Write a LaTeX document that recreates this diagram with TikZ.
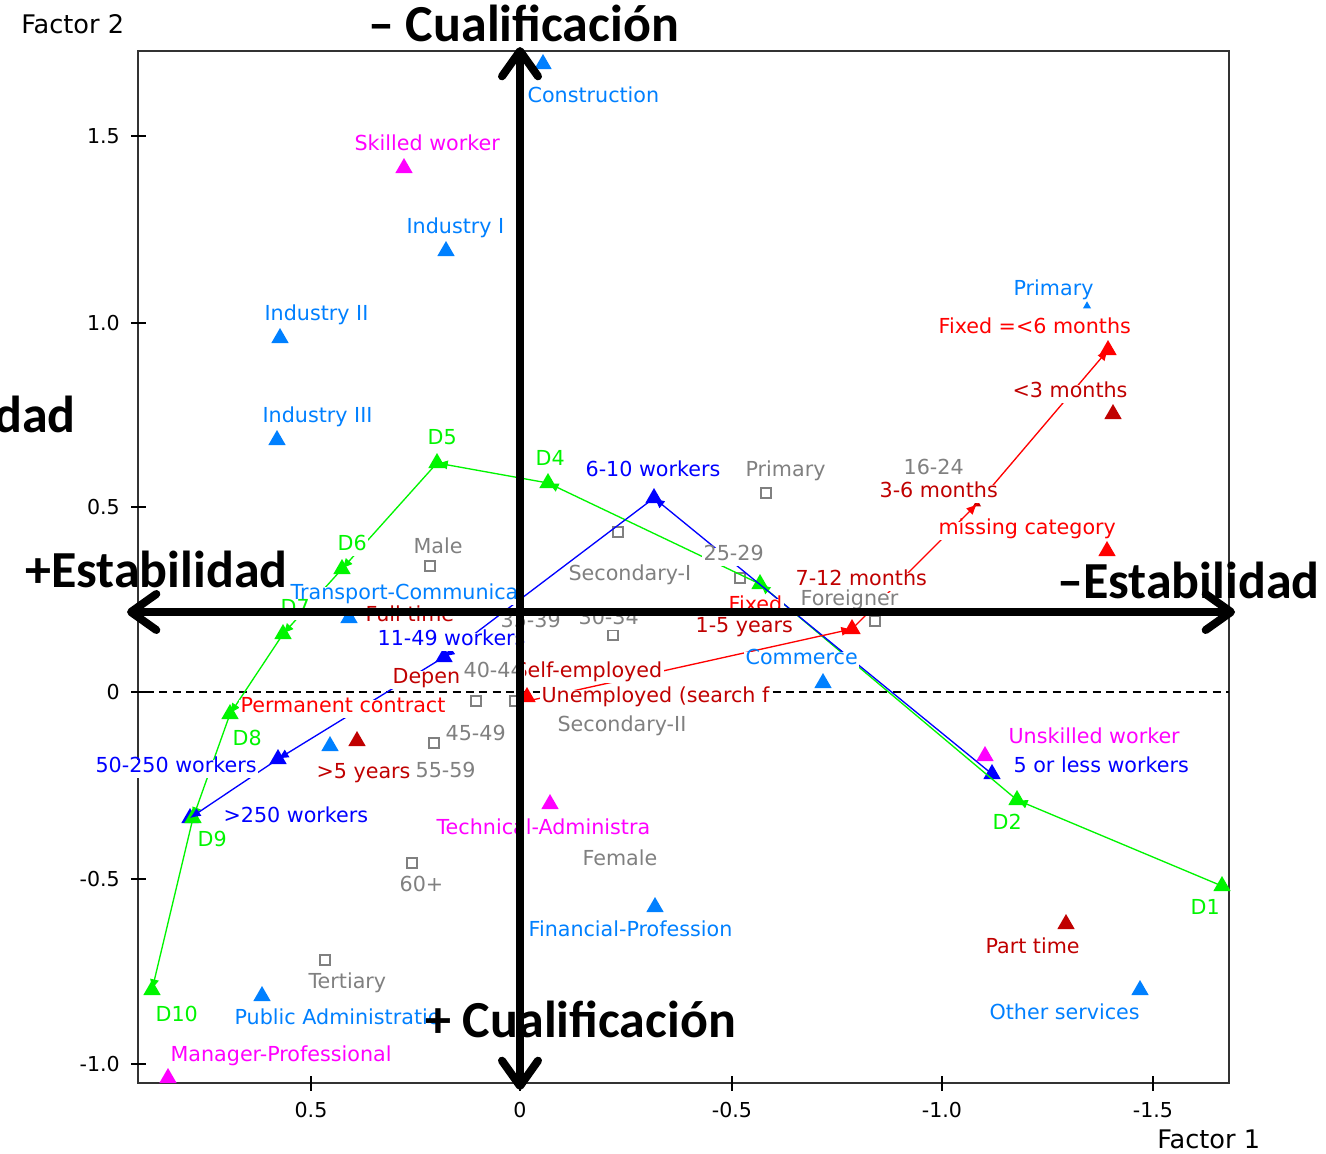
\documentclass[tikz,border=0pt]{standalone}
\usepackage{fontspec}
\setmainfont{DejaVu Sans}
\newfontfamily\bigfont{Carlito}
\usetikzlibrary{arrows.meta,shapes.geometric}
\definecolor{sect}{RGB}{0,128,255}
\definecolor{wrk}{RGB}{0,0,255}
\definecolor{dec}{RGB}{0,245,0}
\definecolor{mag}{RGB}{255,0,255}
\definecolor{rd}{RGB}{255,0,0}
\definecolor{drd}{RGB}{192,0,0}
\definecolor{gr}{RGB}{128,128,128}
\tikzset{
  tri/.style={regular polygon,regular polygon sides=3,inner sep=0pt,minimum size=15pt,fill=#1},
  stri/.style={regular polygon,regular polygon sides=3,inner sep=0pt,minimum size=7pt,fill=#1},
  sqr/.style={rectangle,draw=gr,line width=1.1pt,fill=white,minimum size=7.5pt,inner sep=0pt},
  lbl/.style={font=\fontsize{15.5}{18}\selectfont,text=#1,fill=white,inner xsep=1pt,inner ysep=2pt,text height=0.75em,text depth=0.2em,anchor=west,yshift=-3pt},
  traj/.style={draw=#1,line width=1pt,-{Latex[length=8pt,width=7pt]}},
  bigtxt/.style={font=\bigfont\bfseries\fontsize{39}{44}\selectfont,inner sep=0pt,anchor=base west},
  ticklbl/.style={font=\fontsize{15.4}{18}\selectfont,inner sep=0pt},
  axlbl/.style={font=\fontsize{19.2}{22}\selectfont,inner sep=0pt,anchor=west},
  bigarrow/.style={line width=6pt,{Straight Barb[length=19pt,width=27pt,round]}-{Straight Barb[length=19pt,width=27pt,round]}},
}
\begin{document}
\begin{tikzpicture}[x=0.75pt,y=-0.75pt]
\fill[white] (0,0) rectangle (1326,1153);
\useasboundingbox (0,0) rectangle (1326,1153);
% frame and axes
\draw[line width=1.5pt,black!80] (138,51) rectangle (1229,1083);
\foreach \v/\yy in {1.5/136,1.0/323,0.5/507,0/692,-0.5/879,-1.0/1064}{
  \draw[line width=1.2pt] (131,\yy) -- (146,\yy);
  \node[ticklbl,anchor=east] at (120,\yy) {\v};
}
\foreach \v/\xx in {0.5/311,0/520,-0.5/732,-1.0/942,-1.5/1153}{
  \draw[line width=1.2pt] (\xx,1076) -- (\xx,1091);
  \node[ticklbl] at (\xx,1110) {\v};
}
\node[axlbl] (f2) at (21,24) {Factor 2};
\node[axlbl] (f1) at (1157,1139) {Factor 1};
\draw[dash pattern=on 6pt off 4pt,line width=1pt] (146,692) -- (1229,692);
% sector markers
\node[tri=sect] (cons) at (543,64) {};
\node[tri=sect] (ind1) at (446,251) {};
\node[tri=sect] (ind2) at (280,338) {};
\node[tri=sect] (ind3) at (277,440) {};
\node[stri=sect] (prim) at (1087,306) {};
\node[tri=sect] (trans) at (349,618) {};
\node[tri=sect] (comm) at (823,683) {};
\node[tri=sect] (fin) at (655,907) {};
\node[tri=sect] (pub) at (262,996) {};
\node[tri=sect] (oth) at (1140,990) {};
\node[tri=sect] (unl) at (330,746) {};
% occupation markers
\node[tri=mag] (skw) at (404,168) {};
\node[tri=mag] (unsk) at (985,756) {};
\node[tri=mag] (tech) at (550,804) {};
\node[tri=mag] (mgr) at (168,1078) {};
% firm size markers
\node[tri=wrk] (w610) at (654,498) {};
\node[tri=wrk] (w5) at (992,774) {};
\node[tri=wrk] (w1149) at (444,657) {};
\node[tri=wrk] (w50) at (278,759) {};
\node[tri=wrk] (w250) at (190,818) {};
% deciles
\node[tri=dec] (d1) at (1222,886) {};
\node[tri=dec] (d2) at (1017,800) {};
\node[tri=dec] (d3) at (760,584) {};
\node[tri=dec] (d4) at (548,483) {};
\node[tri=dec] (d5) at (437,463) {};
\node[tri=dec] (d6) at (342,569) {};
\node[tri=dec] (d7) at (283,634) {};
\node[tri=dec] (d8) at (230,714) {};
\node[tri=dec] (d9) at (193,818) {};
\node[tri=dec] (d10) at (152,990) {};
% contract markers
\node[tri=rd] (fx6) at (1108,350) {};
\node[tri=rd] (miss) at (1107,551) {};
\node[tri=rd] (r712) at (852,629) {};
\node[tri=rd] (unemp) at (527,697) {};
\node[stri=drd] (r36) at (977,504) {};
\node[tri=drd] (lt3) at (1113,414) {};
\node[tri=drd] (pt) at (1066,924) {};
\node[tri=drd] (gt5) at (357,741) {};
% supplementary squares
\node[sqr] (sprim) at (766,493) {};
\node[sqr] (smale) at (430,566) {};
\node[sqr] (s2529) at (740,578) {};
\node[sqr] (s3034) at (613,635) {};
\node[sqr] (s4044) at (476,701) {};
\node[sqr] (s4549) at (434,743) {};
\node[sqr] (s60) at (412,863) {};
\node[sqr] (ssec1) at (618,532) {};
\node[sqr] (ssec2) at (515,701) {};
\node[sqr] (ster) at (325,960) {};
\node[sqr] (sfor) at (875,621) {};
% trajectories
\foreach \a/\b in {d1/d2,d2/d3,d3/d4,d4/d5,d5/d6,d6/d7,d7/d8,d8/d9,d9/d10}
  \draw[traj=dec] (\a.center) -- (\b.center);
\foreach \a/\b in {w5/w610,w610/w1149,w1149/w50,w50/w250}
  \draw[traj=wrk] (\a.center) -- (\b.center);
\coordinate (rstart) at (532,700);
\foreach \a/\b in {rstart/r712,r712/r36,r36/fx6}
  \draw[traj=rd] (\a.center) -- (\b.center);
% labels
\node[lbl=sect] (lcons) at (526,95) {Construction};
\node[lbl=sect] (lind1) at (405,226) {Industry I};
\node[lbl=sect] (lind2) at (263,313) {Industry II};
\node[lbl=sect] (lind3) at (261,415) {Industry III};
\node[lbl=sect] (lprim) at (1012,288) {Primary};
\node[lbl=sect] (ltrans) at (289,592) {Transport-Communica};
\node[lbl=sect] (lcomm) at (744,657) {Commerce};
\node[lbl=sect] (lfin) at (527,929) {Financial-Profession};
\node[lbl=sect] (lpub) at (233,1017) {Public Administratio};
\node[lbl=sect] (loth) at (988,1012) {Other services};
\node[lbl=mag] (lskw) at (353,143) {Skilled worker};
\node[lbl=mag] (lunsk) at (1007,736) {Unskilled worker};
\node[lbl=mag] (ltech) at (435,827) {Technical-Administra};
\node[lbl=mag] (lmgr) at (169,1054) {Manager-Professional};
\node[lbl=drd] (lfull) at (364,614) {Full time};
\node[lbl=gr] (l3539) at (499,620) {35-39};
\node[lbl=wrk] (lw610) at (584,469) {6-10 workers};
\node[lbl=wrk] (lw5) at (1012,765) {5 or less workers};
\node[lbl=wrk] (lw1149) at (376,638) {11-49 workers};
\node[lbl=wrk] (lw50) at (94,765) {50-250 workers};
\node[lbl=wrk] (lw250) at (222,815) {>250 workers};
\node[lbl=dec] (ld1) at (1189,907) {D1};
\node[lbl=dec] (ld2) at (991,822) {D2};
\node[lbl=dec] (ld4) at (534,458) {D4};
\node[lbl=dec] (ld5) at (426,437) {D5};
\node[lbl=dec] (ld6) at (336,543) {D6};
\node[lbl=dec] (ld7) at (279,607) {D7};
\node[lbl=dec] (ld8) at (231,738) {D8};
\node[lbl=dec] (ld9) at (196,839) {D9};
\node[lbl=dec] (ld10) at (154,1014) {D10};
\node[lbl=rd] (lfx6) at (937,326) {Fixed =<6 months};
\node[lbl=drd] (llt3) at (1011,390) {<3 months};
\node[lbl=gr] (l1624) at (902,467) {16-24};
\node[lbl=drd] (lr36) at (878,490) {3-6 months};
\node[lbl=rd] (lmiss) at (937,527) {missing category};
\node[lbl=drd] (lr712) at (794,578) {7-12 months};
\node[lbl=rd] (lfixed) at (727,604) {Fixed};
\node[lbl=gr] (lfor) at (799,598) {Foreigner};
\node[lbl=drd] (l15) at (694,625) {1-5 years};
\node[lbl=rd] (lperm) at (239,705) {Permanent contract};
\node[lbl=drd] (ldep) at (391,676) {Depen};
\node[lbl=drd] (lself) at (513,670) {Self-employed};
\node[lbl=gr] (l4044) at (462,670) {40-44};
\node[lbl=drd] (lunemp) at (540,695) {Unemployed (search f};
\node[lbl=drd] (lgt5) at (315,771) {>5 years};
\node[lbl=drd] (lpt) at (984,946) {Part time};
\node[lbl=gr] (lsprim) at (744,469) {Primary};
\node[lbl=gr] (lmale) at (412,546) {Male};
\node[lbl=gr] (lfem) at (581,858) {Female};
\node[lbl=gr] (l2529) at (702,553) {25-29};
\node[lbl=gr] (l3034) at (577,617) {30-34};
\node[lbl=gr] (l4549) at (444,733) {45-49};
\node[lbl=gr] (l5559) at (414,770) {55-59};
\node[lbl=gr] (l60) at (398,884) {60+};
\node[lbl=gr] (lsec1) at (567,573) {Secondary-I};
\node[lbl=gr] (lsec2) at (556,724) {Secondary-II};
\node[lbl=gr] (lter) at (307,981) {Tertiary};
% big overlay arrows and captions
\coordinate (vtop) at (520,47);
\coordinate (vbot) at (520,1090);
\coordinate (hl) at (127,612);
\coordinate (hr) at (1235,612);
\draw[bigarrow] (vbot) -- (vtop);
\draw[bigarrow] (hl) -- (hr);
\node[bigtxt] (tq1) at (368,41) {– Cualificación};
\node[bigtxt] (tq2) at (425,1037) {+ Cualificación};
\node[bigtxt] (te1) at (25,587) {+Estabilidad};
\node[bigtxt] (te2) at (1057,598) {–Estabilidad};
\node[bigtxt,anchor=base east] (te0) at (76,432) {dad};
\end{tikzpicture}
\end{document}
